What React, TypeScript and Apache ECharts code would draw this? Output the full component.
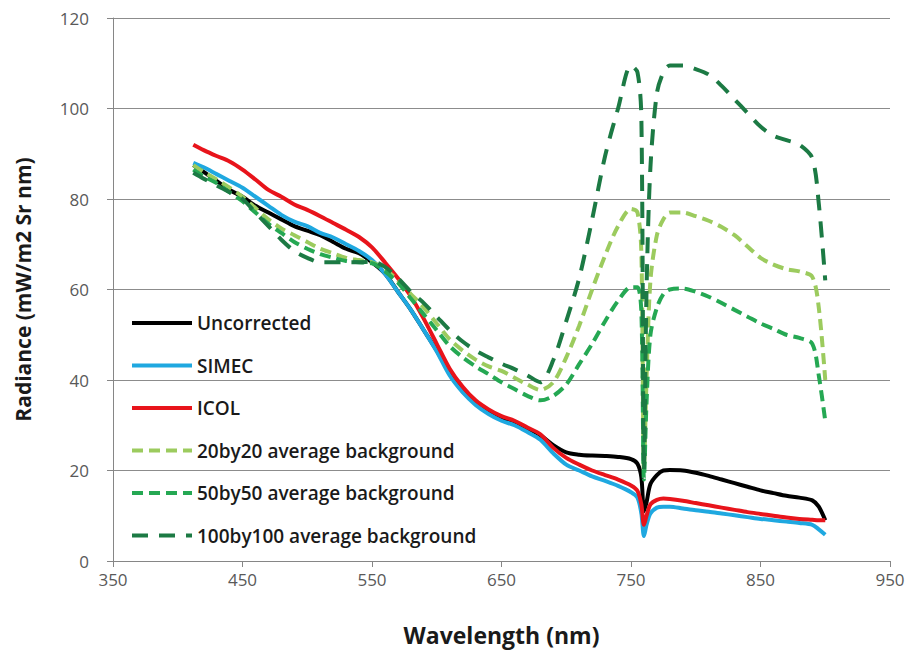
import React, { useEffect, useRef } from "react";
import * as echarts from "echarts";

const wavelengths = [412, 420, 430, 440, 450, 460, 470, 480, 490, 500, 510, 520, 530, 540, 550, 560, 570, 580, 590, 600, 610, 620, 630, 640, 650, 660, 670, 680, 690, 700, 710, 720, 730, 740, 750, 755, 758, 760, 762, 765, 770, 775, 780, 790, 800, 810, 820, 830, 840, 850, 860, 870, 880, 890, 895, 900];

const uncorrected = [87.5, 86, 84, 82, 80.5, 78.5, 77, 75.5, 74, 73, 72, 70.5, 69, 68, 66, 63.5, 59.5, 55.5, 51, 46.5, 41.5, 37.5, 35, 33, 31.5, 30.5, 29.3, 27.8, 25.6, 24, 23.5, 23.3, 23.2, 23, 22.5, 21.5, 18.5, 11, 13, 17, 19, 20, 20.1, 20, 19.5, 18.8, 18, 17.2, 16.4, 15.6, 15, 14.4, 14, 13.4, 12, 9];

const simec = [88, 87, 85.5, 84, 82.5, 80.5, 78.5, 76.5, 75, 74, 72.5, 71.5, 70, 68.5, 66.5, 63.5, 59.5, 55.5, 51, 46.3, 41, 37.3, 34.5, 32.5, 31, 30, 28.5, 26.8, 23.8, 21.3, 20, 18.7, 17.7, 16.6, 15.2, 14, 10.5, 5.5, 8, 10.5, 11.8, 12, 12, 11.6, 11.2, 10.9, 10.5, 10.1, 9.7, 9.3, 9, 8.7, 8.4, 8, 7, 5.8];

const icol = [92, 90.8, 89.5, 88.3, 86.5, 84.3, 82, 80.5, 78.8, 77.6, 76.2, 74.7, 73.2, 71.6, 69.3, 66, 62.5, 58.5, 53.5, 48, 42.5, 38.5, 35.5, 33.5, 32, 31, 29.5, 28, 25, 22.8, 21.3, 20, 19, 18, 16.7, 15.5, 12.5, 8, 10, 12.5, 13.5, 13.8, 13.7, 13.3, 12.8, 12.3, 11.8, 11.3, 10.8, 10.4, 10, 9.6, 9.3, 9.1, 9, 9];

const avg20 = [87.5, 86, 84.3, 82.5, 80.5, 78, 75.5, 73.5, 72, 70.5, 69, 68, 67, 66.5, 66, 64.5, 62, 59, 56, 52.5, 49, 46.5, 44.5, 43, 42, 40.5, 39, 37.8, 39.5, 45, 52, 60, 67.5, 74, 77.8, 77, 68, 20, 40, 62, 72, 75.5, 77, 77, 76.2, 75.2, 73.8, 72, 69.5, 67, 65.5, 64.5, 64, 62.8, 56, 40];

const avg50 = [86.5, 85, 83.5, 81.5, 79.5, 77, 74.5, 72.5, 70.5, 69, 67.8, 67, 66.3, 66, 65.8, 64, 61.5, 58, 54.5, 51, 47.5, 45, 43, 41.3, 39.5, 38, 36.5, 35.5, 36.5, 39, 43.5, 48, 53, 57.5, 60.5, 60.5, 55, 18, 35, 50, 56, 59, 60, 60.2, 59.5, 58.4, 57, 55.5, 54, 52.5, 51.3, 50, 49.3, 48, 41, 31];

const avg100 = [85.8, 84.5, 83, 81.5, 80, 77, 74, 71, 68.5, 67, 66, 66, 66, 66, 66.2, 65, 62.5, 59.5, 57, 54, 51, 48.5, 46.5, 45, 43.6, 42.4, 41, 39.5, 44.4, 53, 62.5, 75.5, 89.5, 100, 109.5, 108, 98, 20, 60, 87, 103.4, 108, 109.5, 109.5, 108.7, 107.5, 105, 102, 99, 96, 94, 93, 92, 89, 79, 62];

const yTicks = [0, 20, 40, 60, 80, 100, 120];
const xTicks = [350, 450, 550, 650, 750, 850, 950];

const seriesDefs = [
  { name: "Uncorrected", values: uncorrected, color: "#000000", dash: "solid" as any },
  { name: "SIMEC", values: simec, color: "#1FA8E0", dash: "solid" as any },
  { name: "ICOL", values: icol, color: "#E8141B", dash: "solid" as any },
  { name: "20by20 average background", values: avg20, color: "#9CCB5E", dash: [11, 6] as any },
  { name: "50by50 average background", values: avg50, color: "#25A853", dash: [11, 6] as any },
  { name: "100by100 average background", values: avg100, color: "#1C7A44", dash: [16, 11] as any },
];

const FONT = "'Open Sans', 'DejaVu Sans', sans-serif";

export default function App() {
  const ref = useRef<HTMLDivElement>(null);
  useEffect(() => {
    if (!ref.current) return;
    const chart = echarts.init(ref.current, undefined, { renderer: "svg" });
    chart.setOption({
      animation: false,
      backgroundColor: "#ffffff",
      grid: { left: 113, right: 20, top: 18, bottom: 101, containLabel: false },
      legend: {
        orient: "vertical",
        left: 125,
        top: 308,
        padding: 5,
        itemWidth: 60,
        itemHeight: 20,
        itemGap: 22.5,
        itemStyle: { opacity: 0 },
        lineStyle: { width: 4 },
        textStyle: { fontFamily: FONT, fontSize: 19, fontWeight: 600, color: "#1a1a1a", lineHeight: 20 },
        data: seriesDefs.map((s) => s.name),
      },
      xAxis: {
        type: "value",
        min: xTicks[0],
        max: xTicks[xTicks.length - 1],
        interval: 100,
        name: "Wavelength (nm)",
        nameLocation: "middle",
        nameGap: 62,
        nameTextStyle: { fontFamily: FONT, fontSize: 23, fontWeight: 700, color: "#1a1a1a" },
        axisLine: { show: true, lineStyle: { color: "#868686", width: 1 } },
        axisTick: { show: true, length: 6, lineStyle: { color: "#868686" } },
        axisLabel: { fontFamily: FONT, fontSize: 17, color: "#595959", margin: 10 },
        splitLine: { show: false },
      },
      yAxis: {
        type: "value",
        min: yTicks[0],
        max: yTicks[yTicks.length - 1],
        interval: 20,
        name: "Radiance (mW/m2 Sr nm)",
        nameLocation: "middle",
        nameGap: 80,
        nameTextStyle: { fontFamily: FONT, fontSize: 21, fontWeight: 700, color: "#1a1a1a" },
        axisLine: { show: true, lineStyle: { color: "#868686", width: 1 } },
        axisTick: { show: true, length: 6, lineStyle: { color: "#868686" } },
        axisLabel: { fontFamily: FONT, fontSize: 17, color: "#595959", margin: 24 },
        splitLine: { show: true, lineStyle: { color: "#8c8c8c", width: 1 } },
      },
      series: seriesDefs.map((s) => ({
        name: s.name,
        type: "line",
        data: wavelengths.map((w, i) => [w, s.values[i]]),
        symbol: "none",
        smooth: 0.3,
        lineStyle: { color: s.color, width: 4, type: s.dash },
        itemStyle: { color: s.color },
      })),
    });
    return () => chart.dispose();
  }, []);
  return <div ref={ref} style={{ width: 910, height: 662, position: "absolute", left: 0, top: 0 }} />;
}
